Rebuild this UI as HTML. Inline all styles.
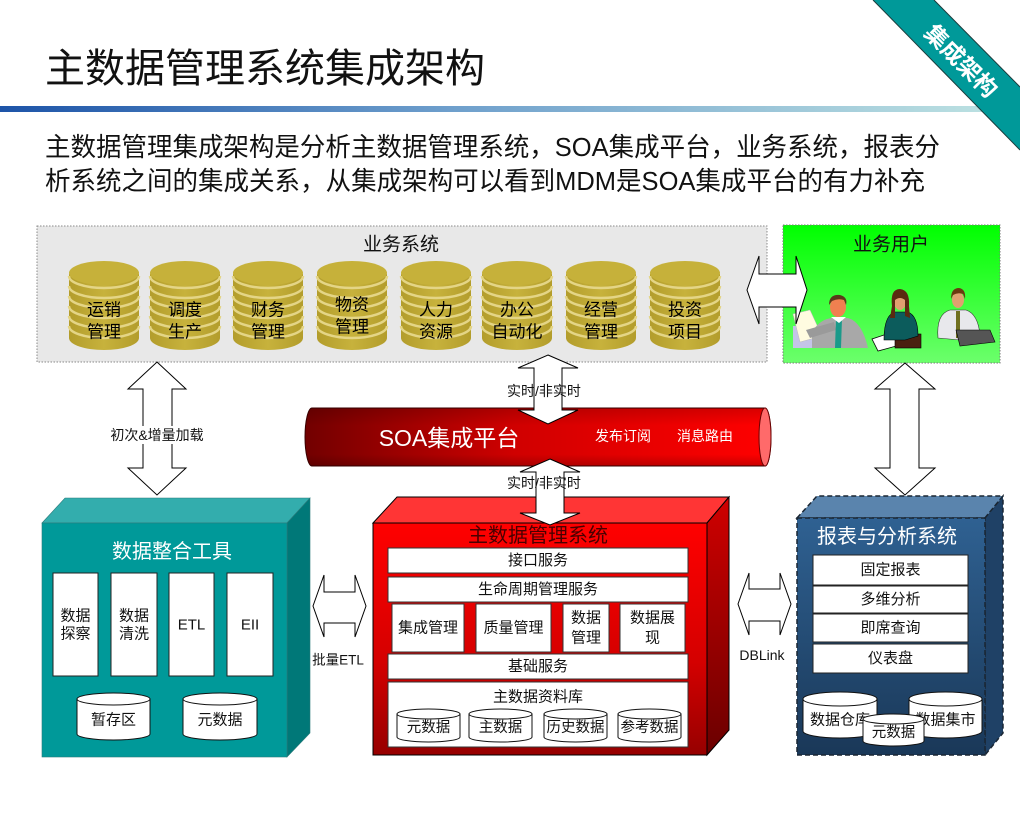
<!DOCTYPE html>
<html><head><meta charset="utf-8">
<style>
html,body{margin:0;padding:0;background:#fff;}
svg{display:block;}
svg text{font-family:"Liberation Sans","Noto Sans CJK SC",sans-serif;}
</style></head>
<body>
<svg width="1020" height="840" viewBox="0 0 1020 840" xmlns="http://www.w3.org/2000/svg">
<defs>
  <linearGradient id="bar" x1="0" y1="0" x2="1" y2="0">
    <stop offset="0" stop-color="#1d54a8"/>
    <stop offset="0.45" stop-color="#6e9fcc"/>
    <stop offset="1" stop-color="#bde2e2"/>
  </linearGradient>
  <linearGradient id="green" x1="0" y1="0" x2="0" y2="1">
    <stop offset="0" stop-color="#00ff00"/>
    <stop offset="1" stop-color="#6cff6c"/>
  </linearGradient>
  <linearGradient id="gold" x1="0" y1="0" x2="1" y2="0">
    <stop offset="0" stop-color="#b39d2c"/>
    <stop offset="0.5" stop-color="#c7b23c"/>
    <stop offset="1" stop-color="#b39d2c"/>
  </linearGradient>
  <linearGradient id="soa" x1="0" y1="0" x2="1" y2="0">
    <stop offset="0" stop-color="#720000"/>
    <stop offset="0.45" stop-color="#d00000"/>
    <stop offset="1" stop-color="#ff0000"/>
  </linearGradient>
  <linearGradient id="soav" x1="0" y1="0" x2="0" y2="1">
    <stop offset="0" stop-color="#000" stop-opacity="0.15"/>
    <stop offset="0.3" stop-color="#000" stop-opacity="0"/>
    <stop offset="0.8" stop-color="#000" stop-opacity="0"/>
    <stop offset="1" stop-color="#000" stop-opacity="0.2"/>
  </linearGradient>
  <linearGradient id="redfront" x1="0" y1="0" x2="0" y2="1">
    <stop offset="0" stop-color="#ff0000"/>
    <stop offset="0.6" stop-color="#d40000"/>
    <stop offset="1" stop-color="#960000"/>
  </linearGradient>
  <linearGradient id="redside" x1="0" y1="0" x2="0" y2="1">
    <stop offset="0" stop-color="#d00000"/>
    <stop offset="1" stop-color="#6a0000"/>
  </linearGradient>
  <linearGradient id="bluefront" x1="0" y1="0" x2="0" y2="1">
    <stop offset="0" stop-color="#2f6192"/>
    <stop offset="1" stop-color="#1a3858"/>
  </linearGradient>
  <g id="coin">
    <path d="M-35,274 L-35,338 A35,12 0 0 0 35,338 L35,274 Z" fill="url(#gold)"/>
    <path d="M-35,276 A35,12 0 0 0 35,276" fill="none" stroke="#e4d586" stroke-width="2.5"/>
    <path d="M-35,286 A35,12 0 0 0 35,286" fill="none" stroke="#e4d586" stroke-width="2.5"/>
    <path d="M-35,296 A35,12 0 0 0 35,296" fill="none" stroke="#e4d586" stroke-width="2.5"/>
    <path d="M-35,306 A35,12 0 0 0 35,306" fill="none" stroke="#e4d586" stroke-width="2.5"/>
    <path d="M-35,316 A35,12 0 0 0 35,316" fill="none" stroke="#e4d586" stroke-width="2.5"/>
    <path d="M-35,326 A35,12 0 0 0 35,326" fill="none" stroke="#e4d586" stroke-width="2.5"/>
    <ellipse cx="0" cy="273" rx="35" ry="12" fill="#c6b13a"/>
  </g>
</defs>

<rect width="1020" height="840" fill="#fff"/>

<!-- Title -->
<text x="45" y="69" font-size="40" fill="#111" dominant-baseline="central" textLength="440" lengthAdjust="spacingAndGlyphs">主数据管理系统集成架构</text>
<rect x="0" y="106" width="1000" height="6" fill="url(#bar)"/>

<!-- Ribbon -->
<polygon points="873,0 934,0 1020,87 1020,150" fill="#009999"/>
<line x1="934" y1="0" x2="1020" y2="87" stroke="#1a3a3a" stroke-width="1"/>
<line x1="873" y1="0" x2="1020" y2="150" stroke="#1a3a3a" stroke-width="1"/>
<text x="961" y="61" font-size="23" font-weight="bold" fill="#fff" text-anchor="middle" dominant-baseline="central" transform="rotate(45 961 61)">集成架构</text>

<!-- Subtitle -->
<text x="45" y="147" font-size="26" fill="#111" dominant-baseline="central" textLength="895" lengthAdjust="spacingAndGlyphs">主数据管理集成架构是分析主数据管理系统，SOA集成平台，业务系统，报表分</text>
<text x="45" y="181" font-size="26" fill="#111" dominant-baseline="central" textLength="880" lengthAdjust="spacingAndGlyphs">析系统之间的集成关系，从集成架构可以看到MDM是SOA集成平台的有力补充</text>

<!-- Business systems box -->
<rect x="37" y="226" width="730" height="136" fill="#e8e8e8" stroke="#8a8a8a" stroke-width="1" stroke-dasharray="1.5 1.5"/>
<text x="401" y="245" font-size="19" fill="#111" text-anchor="middle" dominant-baseline="central">业务系统</text>

<use href="#coin" transform="translate(104,0)"/>
<use href="#coin" transform="translate(185,0)"/>
<use href="#coin" transform="translate(268,0)"/>
<use href="#coin" transform="translate(352,0)"/>
<use href="#coin" transform="translate(436,0)"/>
<use href="#coin" transform="translate(517,0)"/>
<use href="#coin" transform="translate(601,0)"/>
<use href="#coin" transform="translate(685,0)"/>

<g font-size="17" fill="#000" text-anchor="middle" dominant-baseline="central">
  <text x="104" y="310">运销</text><text x="104" y="332">管理</text>
  <text x="185" y="310">调度</text><text x="185" y="332">生产</text>
  <text x="268" y="310">财务</text><text x="268" y="332">管理</text>
  <text x="352" y="305">物资</text><text x="352" y="327">管理</text>
  <text x="436" y="310">人力</text><text x="436" y="332">资源</text>
  <text x="517" y="310">办公</text><text x="517" y="332">自动化</text>
  <text x="601" y="310">经营</text><text x="601" y="332">管理</text>
  <text x="685" y="310">投资</text><text x="685" y="332">项目</text>
</g>

<!-- Business user box -->
<rect x="783" y="225" width="217" height="138" fill="url(#green)" stroke="#7a7a7a" stroke-width="1" stroke-dasharray="1.5 1.5"/>
<text x="891" y="245" font-size="19" fill="#111" text-anchor="middle" dominant-baseline="central">业务用户</text>

<!-- People -->
<g>
  <rect x="793" y="326" width="30" height="22" fill="#c4c4e8"/>
  <polygon points="793,314 810,310 822,336 800,342" fill="#fffbe0" stroke="#bbb" stroke-width="0.5"/>
  <path d="M812,332 Q820,319 832,318 L848,318 Q862,322 868,348 L812,348 Z" fill="#a8a8a8"/>
  <path d="M806,330 L834,322 L836,330 L810,338Z" fill="#9a9a9a"/>
  <polygon points="836,318 842,318 841,348 835,348" fill="#1a9a8a"/>
  <polygon points="831,317 839,323 846,317" fill="#fff"/>
  <ellipse cx="838" cy="307" rx="8" ry="10" fill="#f08050"/>
  <path d="M829,305 Q829,294 840,295 Q848,297 846,305 L844,300 Q838,298 832,301Z" fill="#5a3a1a"/>

  <polygon points="872,339 893,332 900,345 878,351" fill="#fff" stroke="#000" stroke-width="0.8"/>
  <rect x="895" y="334" width="26" height="14" fill="#4a2010" stroke="#000" stroke-width="0.6"/>
  <path d="M884,340 Q884,315 895,312 L908,312 Q918,316 918,336 L905,340Z" fill="#0c5c5c" stroke="#000" stroke-width="0.6"/>
  <ellipse cx="900" cy="302" rx="6" ry="8" fill="#e0a070"/>
  <path d="M892,306 Q890,289 900,289 Q910,290 909,306 L910,318 L905,316 L905,300 Q900,296 895,300 L895,318 L890,318Z" fill="#5a2a10"/>

  <path d="M938,338 Q936,314 950,310 L966,310 Q978,314 980,335 L960,340Z" fill="#e8e8ec" stroke="#333" stroke-width="0.6"/>
  <polygon points="956,311 960,311 960,338 956,338" fill="#707020"/>
  <polygon points="956,330 990,330 995,342 960,346" fill="#555" stroke="#000" stroke-width="0.6"/>
  <ellipse cx="958" cy="300" rx="6" ry="8" fill="#e0a070"/>
  <path d="M951,299 Q951,288 959,288 Q966,289 965,299 L963,294 Q958,292 953,295Z" fill="#6a3a10"/>
</g>

<!-- Arrow business <-> users -->
<polygon points="747,290 759,256 759,274 796,274 796,256 807,290 796,324 796,307 759,307 759,324" fill="#fff" stroke="#000" stroke-width="1"/>

<!-- Left vertical arrow -->
<polygon points="157,362 186,389 172,389 172,468 186,468 157,495 128,468 143,468 143,389 128,389" fill="#fff" stroke="#000" stroke-width="1"/>
<rect x="106" y="426" width="102" height="18" fill="#fff"/>
<text x="157" y="435" font-size="14" fill="#111" text-anchor="middle" dominant-baseline="central">初次&amp;增量加载</text>

<!-- Right vertical arrow -->
<polygon points="905,363 935,389 919,389 919,468 935,468 905,495 875,468 890,468 890,389 875,389" fill="#fff" stroke="#000" stroke-width="1"/>

<!-- Teal box: data integration -->
<polygon points="42,523 65,498 310,498 287,523" fill="#33adad" stroke="#2a7a7a" stroke-width="0.6"/>
<polygon points="287,523 310,498 310,733 287,757" fill="#007878" stroke="#2a7a7a" stroke-width="0.6"/>
<rect x="42" y="523" width="245" height="234" fill="#009999" stroke="#2a7a7a" stroke-width="0.6"/>
<text x="172" y="552" font-size="20" fill="#fff" text-anchor="middle" dominant-baseline="central">数据整合工具</text>
<g fill="#fff" stroke="#222" stroke-width="1">
  <rect x="53" y="573" width="45" height="103"/>
  <rect x="111" y="573" width="46" height="103"/>
  <rect x="169" y="573" width="45" height="103"/>
  <rect x="227" y="573" width="46" height="103"/>
</g>
<g font-size="15" fill="#111" text-anchor="middle" dominant-baseline="central">
  <text x="75.5" y="616">数据</text><text x="75.5" y="634">探察</text>
  <text x="134" y="616">数据</text><text x="134" y="634">清洗</text>
  <text x="191.5" y="625">ETL</text>
  <text x="250" y="625">EII</text>
</g>
<g fill="#fff" stroke="#111" stroke-width="1">
  <path d="M77,699 L77,734 A36.5,6 0 0 0 150,734 L150,699 Z"/>
  <ellipse cx="113.5" cy="699" rx="36.5" ry="6"/>
  <path d="M183,699 L183,734 A37,6 0 0 0 257,734 L257,699 Z"/>
  <ellipse cx="220" cy="699" rx="37" ry="6"/>
</g>
<g font-size="15" fill="#111" text-anchor="middle" dominant-baseline="central">
  <text x="113.5" y="720">暂存区</text>
  <text x="220" y="720">元数据</text>
</g>

<!-- MDM red box -->
<polygon points="373,523 397,497 729,497 707,523" fill="#ff3535" stroke="#000" stroke-width="1"/>
<polygon points="707,523 729,497 729,730 707,755" fill="url(#redside)" stroke="#000" stroke-width="1"/>
<rect x="373" y="523" width="334" height="232" fill="url(#redfront)" stroke="#000" stroke-width="1"/>
<text x="538" y="536" font-size="20" fill="#4a0000" text-anchor="middle" dominant-baseline="central">主数据管理系统</text>
<g fill="#fff" stroke="#333" stroke-width="1">
  <rect x="388" y="548" width="300" height="25"/>
  <rect x="388" y="577" width="300" height="25"/>
  <rect x="392" y="604" width="72" height="48"/>
  <rect x="476" y="604" width="75" height="48"/>
  <rect x="563" y="604" width="46" height="48"/>
  <rect x="620" y="604" width="65" height="48"/>
  <rect x="388" y="654" width="300" height="25"/>
  <rect x="388" y="682" width="300" height="65"/>
</g>
<g font-size="15" fill="#111" text-anchor="middle" dominant-baseline="central">
  <text x="538" y="560.5">接口服务</text>
  <text x="538" y="589.5">生命周期管理服务</text>
  <text x="428" y="628">集成管理</text>
  <text x="513.5" y="628">质量管理</text>
  <text x="586" y="618">数据</text><text x="586" y="638">管理</text>
  <text x="652.5" y="618">数据展</text><text x="652.5" y="638">现</text>
  <text x="538" y="666.5">基础服务</text>
  <text x="538" y="697">主数据资料库</text>
</g>
<g fill="#fff" stroke="#111" stroke-width="1">
  <path d="M397,714 L397,737 A31.5,5 0 0 0 460,737 L460,714 Z"/><ellipse cx="428.5" cy="714" rx="31.5" ry="5"/>
  <path d="M469,714 L469,737 A31.5,5 0 0 0 532,737 L532,714 Z"/><ellipse cx="500.5" cy="714" rx="31.5" ry="5"/>
  <path d="M544,714 L544,737 A31.5,5 0 0 0 607,737 L607,714 Z"/><ellipse cx="575.5" cy="714" rx="31.5" ry="5"/>
  <path d="M618,714 L618,737 A31.5,5 0 0 0 681,737 L681,714 Z"/><ellipse cx="649.5" cy="714" rx="31.5" ry="5"/>
</g>
<g font-size="14.5" fill="#111" text-anchor="middle" dominant-baseline="central">
  <text x="428.5" y="728">元数据</text>
  <text x="500.5" y="728">主数据</text>
  <text x="575.5" y="728">历史数据</text>
  <text x="649.5" y="728">参考数据</text>
</g>

<!-- Blue box: reporting -->
<polygon points="797,518 817,496 1003,496 985,518" fill="#5a84ad" stroke="#1a2633" stroke-width="1.5" stroke-dasharray="5 3"/>
<polygon points="985,518 1003,496 1003,733 985,755" fill="#1f4166" stroke="#1a2633" stroke-width="1.5" stroke-dasharray="5 3"/>
<rect x="797" y="518" width="188" height="237" fill="url(#bluefront)" stroke="#1a2633" stroke-width="1.5" stroke-dasharray="5 3"/>
<text x="887" y="537" font-size="20" fill="#fff" text-anchor="middle" dominant-baseline="central">报表与分析系统</text>
<g fill="#fff" stroke="#222" stroke-width="1">
  <rect x="813" y="555" width="155" height="30"/>
  <rect x="813" y="586" width="155" height="27"/>
  <rect x="813" y="614" width="155" height="28"/>
  <rect x="813" y="644" width="155" height="29"/>
</g>
<g font-size="15" fill="#111" text-anchor="middle" dominant-baseline="central">
  <text x="890.5" y="570">固定报表</text>
  <text x="890.5" y="599.5">多维分析</text>
  <text x="890.5" y="628">即席查询</text>
  <text x="890.5" y="658.5">仪表盘</text>
</g>
<g fill="#fff" stroke="#111" stroke-width="1">
  <path d="M803,699 L803,731 A37,7 0 0 0 877,731 L877,699 Z"/><ellipse cx="840" cy="699" rx="37" ry="7"/>
</g>
<text x="840" y="720" font-size="15" fill="#111" text-anchor="middle" dominant-baseline="central">数据仓库</text>
<g fill="#fff" stroke="#111" stroke-width="1">
  <path d="M909,699 L909,731 A36.5,7 0 0 0 982,731 L982,699 Z"/><ellipse cx="945.5" cy="699" rx="36.5" ry="7"/>
</g>
<text x="945.5" y="720" font-size="15" fill="#111" text-anchor="middle" dominant-baseline="central">数据集市</text>
<g fill="#fff" stroke="#111" stroke-width="1">
  <path d="M863,719 L863,741 A30.5,5 0 0 0 924,741 L924,719 Z"/><ellipse cx="893.5" cy="719" rx="30.5" ry="5"/>
</g>
<text x="893.5" y="733" font-size="14.5" fill="#111" text-anchor="middle" dominant-baseline="central">元数据</text>

<!-- SOA cylinder -->
<path d="M312,408 L765,408 A6,29 0 0 1 765,466 L312,466 A7,29 0 0 1 312,408 Z" fill="url(#soa)" stroke="#3a0000" stroke-width="1"/>
<path d="M312,408 L765,408 A6,29 0 0 1 765,466 L312,466 A7,29 0 0 1 312,408 Z" fill="url(#soav)"/>
<ellipse cx="765" cy="437" rx="6" ry="29" fill="#ff6a6a" stroke="#6a0000" stroke-width="1"/>
<text x="449" y="438" font-size="23" fill="#fff" text-anchor="middle" dominant-baseline="central">SOA集成平台</text>
<text x="623" y="436" font-size="14" fill="#fff" text-anchor="middle" dominant-baseline="central">发布订阅</text>
<text x="705" y="436" font-size="14" fill="#fff" text-anchor="middle" dominant-baseline="central">消息路由</text>

<!-- Central arrows -->
<polygon points="548,355 578,368 562,368 562,410 578,410 548,424 518,410 534,410 534,368 518,368" fill="#fff" stroke="#000" stroke-width="1"/>
<text x="544" y="391" font-size="14" fill="#111" text-anchor="middle" dominant-baseline="central">实时/非实时</text>
<polygon points="550,459 580,472 564,472 564,513 580,513 550,525 520,513 536,513 536,472 520,472" fill="#fff" stroke="#000" stroke-width="1"/>
<text x="544" y="483" font-size="14" fill="#111" text-anchor="middle" dominant-baseline="central">实时/非实时</text>

<!-- Batch ETL arrow -->
<polygon points="313,606 324,575 324,592 355,592 355,575 366,606 355,637 355,623 324,623 324,637" fill="#fff" stroke="#000" stroke-width="1"/>
<text x="338" y="660" font-size="13.5" fill="#111" text-anchor="middle" dominant-baseline="central">批量ETL</text>

<!-- DBLink arrow -->
<polygon points="738,604 749,573 749,589 780,589 780,573 791,604 780,635 780,621 749,621 749,635" fill="#fff" stroke="#000" stroke-width="1"/>
<text x="762" y="655" font-size="14" fill="#111" text-anchor="middle" dominant-baseline="central">DBLink</text>
</svg>
</body></html>
